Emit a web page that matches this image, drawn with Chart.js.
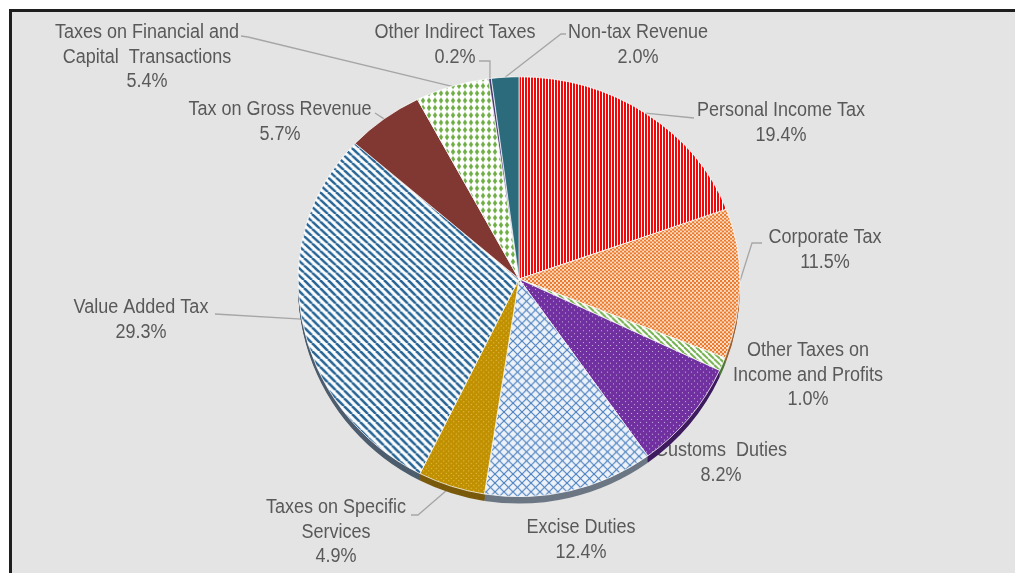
<!DOCTYPE html>
<html>
<head>
<meta charset="utf-8">
<script src="https://cdn.jsdelivr.net/npm/chart.js@4/dist/chart.umd.min.js"></script>
<style>
  html, body { margin: 0; padding: 0; background: #ffffff; }
  canvas { display: block; }
</style>
</head>
<body>
<canvas id="revenuePie" width="1015" height="573"></canvas>
<script>
// Revenue composition, share of total (%)
const categories = [
  ["Personal Income Tax"],
  ["Corporate Tax"],
  ["Other Taxes on", "Income and Profits"],
  ["Customs  Duties"],
  ["Excise Duties"],
  ["Taxes on Specific", "Services"],
  ["Value Added Tax"],
  ["Tax on Gross Revenue"],
  ["Taxes on Financial and", "Capital  Transactions"],
  ["Other Indirect Taxes"],
  ["Non-tax Revenue"]
];
const shares = [19.4, 11.5, 1.0, 8.2, 12.4, 4.9, 29.3, 5.7, 5.4, 0.2, 2.0];

// label block centres and leader-line starting points
const labelCentres = [
  [781, 123], [825, 250], [808, 375], [721, 463], [581, 540], [336, 532],
  [141, 320], [280, 122], [147, 57], [455, 45], [638, 45]
];
const leaderStarts = [
  [[694, 118]],
  [[762, 243], [752, 243]],
  null,
  null,
  null,
  [[411, 515], [418, 515]],
  [[215, 314]],
  [[375, 113]],
  [[241, 36], [248, 37]],
  [[479, 61], [490, 61]],
  [[566, 34], [561, 34]]
];

const ctx = document.getElementById("revenuePie").getContext("2d");

// small repeating tiles for the slice fills
function tile(w, h, paint) {
  const c = document.createElement("canvas");
  c.width = w; c.height = h;
  const g = c.getContext("2d");
  paint(g, w, h);
  return ctx.createPattern(c, "repeat");
}

function diagonal(bg, fg, n, lw) {
  return tile(n, n, (g) => {
    g.fillStyle = bg; g.fillRect(0, 0, n, n);
    g.strokeStyle = fg; g.lineWidth = lw;
    for (const k of [-n, 0, n]) {
      g.beginPath(); g.moveTo(k, 0); g.lineTo(k + n, n); g.stroke();
    }
  });
}

function dots(bg, fg, w, h, r) {
  return tile(w, h, (g) => {
    g.fillStyle = bg; g.fillRect(0, 0, w, h);
    g.fillStyle = fg;
    for (const [x, y] of [[w / 4, h / 4], [3 * w / 4, 3 * h / 4]]) {
      g.beginPath(); g.arc(x, y, r, 0, Math.PI * 2); g.fill();
    }
  });
}

const fills = [
  // red vertical stripes
  tile(3, 4, (g) => { g.fillStyle = "#ffffff"; g.fillRect(0, 0, 3, 4); g.fillStyle = "#f20808"; g.fillRect(0, 0, 2, 4); }),
  // orange confetti
  dots("#fbe9d8", "#ec7a2c", 4, 4, 1.3),
  // green diagonal stripes
  diagonal("#ffffff", "#74b050", 6, 2),
  // purple with white dots
  dots("#7030a0", "#d8c4ea", 6, 6, 0.6),
  // blue trellis
  tile(9, 9, (g) => {
    g.fillStyle = "#edf2f8"; g.fillRect(0, 0, 9, 9);
    g.strokeStyle = "#4f84c2"; g.lineWidth = 1.2;
    for (const k of [-9, 0, 9]) {
      g.beginPath(); g.moveTo(k, 0); g.lineTo(k + 9, 9); g.stroke();
      g.beginPath(); g.moveTo(k, 9); g.lineTo(k + 9, 0); g.stroke();
    }
  }),
  // gold with light dots
  dots("#c09000", "#f2d266", 5, 5, 0.6),
  // blue wide diagonal stripes
  diagonal("#fbfcfd", "#2a6797", 8, 2.6),
  // maroon
  "#813833",
  // green diamonds
  tile(6, 8, (g) => {
    g.fillStyle = "#ffffff"; g.fillRect(0, 0, 6, 8);
    g.fillStyle = "#6fae45";
    g.beginPath(); g.moveTo(3, 0.5); g.lineTo(5.2, 4); g.lineTo(3, 7.5); g.lineTo(0.8, 4); g.closePath(); g.fill();
  }),
  "#4e3d75",
  "#2b6b7b"
];
const sideColors = ["#8a1010", "#a06030", "#4f7a3a", "#3e1a5e", "#6c7784", "#7a5a0c",
                     "#4d5d6e", "#4e201e", "#4a7a32", "#2e2448", "#1b4550"];

const TOP_SCALE = 0.915;
const BOTTOM_SCALE = 0.985;
const DEPTH = 7;

function rimPoint(arc, cx, cy) {
  const { startAngle, endAngle, outerRadius } = arc.getProps(["startAngle", "endAngle", "outerRadius"]);
  const mid = (startAngle + endAngle) / 2;
  const s = Math.sin(mid);
  return [cx + outerRadius * Math.cos(mid), cy + outerRadius * s * (s < 0 ? TOP_SCALE : BOTTOM_SCALE)];
}

const tiltedPie = {
  id: "tiltedPie",
  beforeDraw(chart) {
    const c = chart.ctx;
    c.save();
    c.fillStyle = "#ffffff";
    c.fillRect(0, 0, chart.width, chart.height);
    c.fillStyle = "#e4e4e4";
    c.fillRect(10, 10, chart.width - 10, chart.height - 10);
    c.fillStyle = "#1e1e1e";
    c.fillRect(9, 9, chart.width - 9, 3);
    c.fillRect(9, 9, 3, chart.height - 9);
    c.restore();
  },
  beforeDatasetsDraw(chart) {
    const c = chart.ctx;
    const meta = chart.getDatasetMeta(0);
    const arcs = meta.data;
    const cx = arcs[0].x, cy = arcs[0].y;

    // data labels and leader lines, under the pie
    c.save();
    c.font = "20px 'Liberation Sans', Arial, sans-serif";
    c.fillStyle = "#595959";
    c.textAlign = "center";
    c.textBaseline = "middle";
    const lineH = 24.5;
    categories.forEach((lines, i) => {
      const all = lines.concat([shares[i].toFixed(1) + "%"]);
      const [lx, ly] = labelCentres[i];
      all.forEach((t, k) => {
        c.save();
        c.translate(lx, ly + (k - (all.length - 1) / 2) * lineH);
        c.scale(0.9, 1); // narrow face
        c.fillText(t, 0, 0);
        c.restore();
      });
      if (leaderStarts[i]) {
        const pts = leaderStarts[i].concat([rimPoint(arcs[i], cx, cy)]);
        c.beginPath();
        c.moveTo(pts[0][0], pts[0][1]);
        pts.slice(1).forEach(p => c.lineTo(p[0], p[1]));
        c.strokeStyle = "#a6a6a6";
        c.lineWidth = 1.3;
        c.stroke();
      }
    });
    c.restore();

    // side of the disc, visible along the lower rim
    c.save();
    c.beginPath(); c.rect(0, cy, chart.width, chart.height - cy); c.clip();
    c.translate(cx, cy); c.scale(1, BOTTOM_SCALE); c.translate(-cx, -cy);
    for (let d = DEPTH; d >= 1; d--) {
      arcs.forEach((a, i) => {
        const { startAngle, endAngle, outerRadius } = a.getProps(["startAngle", "endAngle", "outerRadius"]);
        c.beginPath();
        c.moveTo(cx, cy + d);
        c.arc(cx, cy + d, outerRadius, startAngle, endAngle);
        c.closePath();
        c.fillStyle = sideColors[i];
        c.fill();
      });
    }
    c.restore();

    // top face, upper and lower halves foreshortened differently
    [[0, cy, TOP_SCALE], [cy, chart.height, BOTTOM_SCALE]].forEach(([y0, y1, s]) => {
      c.save();
      c.beginPath(); c.rect(0, y0, chart.width, y1 - y0); c.clip();
      c.translate(cx, cy); c.scale(1, s); c.translate(-cx, -cy);
      meta.controller.draw();
      c.restore();
    });
    return false;
  }
};

new Chart(ctx, {
  type: "pie",
  data: {
    labels: categories.map(l => l.join(" ")),
    datasets: [{
      data: shares,
      backgroundColor: fills,
      borderColor: "rgba(255,255,255,0.75)",
      borderWidth: 1
    }]
  },
  options: {
    responsive: false,
    animation: false,
    events: [],
    radius: 221,
    layout: { padding: { left: 298, right: 275, top: 58, bottom: 73 } },
    plugins: {
      legend: { display: false },
      tooltip: { enabled: false }
    }
  },
  plugins: [tiltedPie]
});
</script>
</body>
</html>
